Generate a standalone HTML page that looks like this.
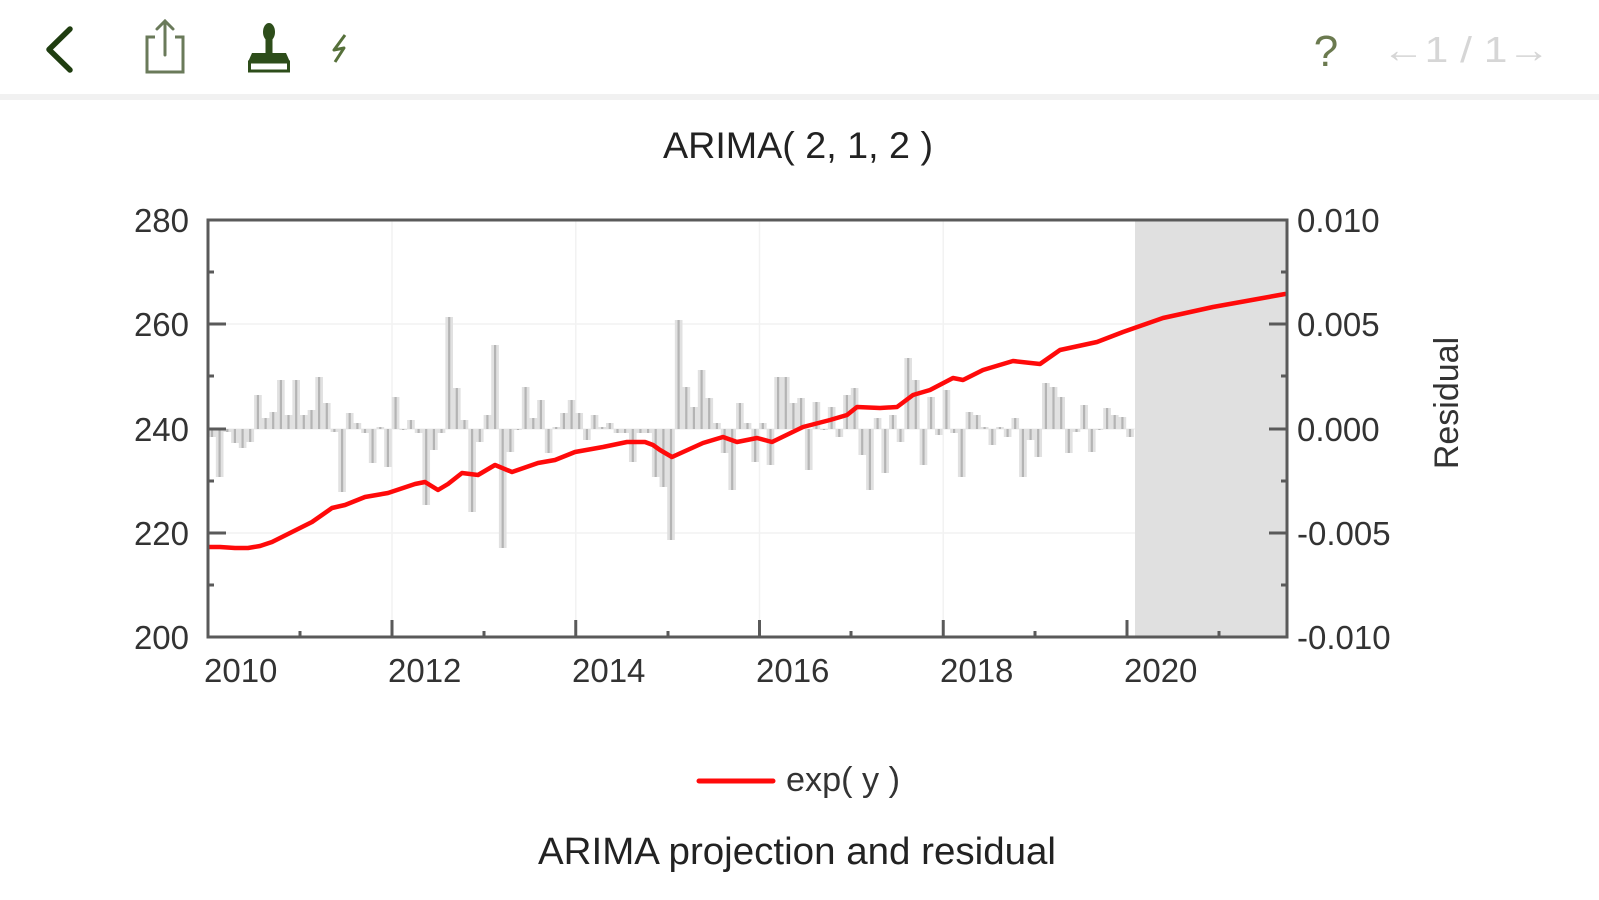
<!DOCTYPE html>
<html>
<head>
<meta charset="utf-8">
<style>
html,body{margin:0;padding:0;background:#fff;}
svg{display:block;font-family:"Liberation Sans",Arial,sans-serif;}
</style>
</head>
<body>
<svg width="1599" height="900" viewBox="0 0 1599 900" xmlns="http://www.w3.org/2000/svg">
<rect width="1599" height="900" fill="#ffffff"/>

<!-- toolbar -->
<rect x="0" y="94" width="1599" height="6" fill="#f1f1f1"/>
<polyline points="70,29 49,49.5 70,70" fill="none" stroke="#1f3d10" stroke-width="5.5" stroke-linecap="round" stroke-linejoin="round"/>
<path d="M155,37 H147 V72 H183 V37 H175" fill="none" stroke="#6a7a5a" stroke-width="3"/>
<path d="M165,21 V55 M157,29 L165,21 L173,29" fill="none" stroke="#6a7a5a" stroke-width="3" stroke-linecap="round"/>
<ellipse cx="269" cy="32" rx="6" ry="9" fill="#2d4d1a"/>
<rect x="265.5" y="38" width="7" height="15" fill="#2d4d1a"/>
<path d="M252,53 H286 L290,62 H248 Z" fill="#2d4d1a"/>
<rect x="249.5" y="62" width="39" height="9" fill="none" stroke="#2d4d1a" stroke-width="3"/>
<polyline points="345,35 334,50 344,48 335,62" fill="none" stroke="#56703a" stroke-width="3" stroke-linejoin="round"/>
<text x="1326" y="66" font-size="44" fill="#6b7a4f" text-anchor="middle">?</text>
<text x="1382" y="62" font-size="36" fill="#d6d6d6" textLength="168" lengthAdjust="spacingAndGlyphs">←1 / 1→</text>

<!-- title -->
<text x="663" y="158" font-size="37" fill="#222" textLength="270" lengthAdjust="spacingAndGlyphs">ARIMA( 2, 1, 2 )</text>

<!-- grid -->
<g stroke="#f2f2f2" stroke-width="1.5">
<line x1="208" y1="324" x2="1287" y2="324"/>
<line x1="208" y1="429" x2="1287" y2="429"/>
<line x1="208" y1="533" x2="1287" y2="533"/>
<line x1="392" y1="220" x2="392" y2="637"/>
<line x1="575.75" y1="220" x2="575.75" y2="637"/>
<line x1="759.5" y1="220" x2="759.5" y2="637"/>
<line x1="943.25" y1="220" x2="943.25" y2="637"/>
</g>

<!-- forecast shade -->
<rect x="1135" y="220" width="152" height="417" fill="#e0e0e0"/>

<!-- residual bars fill -->
<path fill="#e1e1e1" d="M208.2 429V437h7.65V477h7.65V432h7.65V443h7.65V448h7.65V442h7.65V395h7.65V418h7.65V412h7.65V380h7.65V415h7.65V380h7.65V415h7.65V410h7.65V377h7.65V403h7.65V432h7.65V492h7.65V413h7.65V423h7.65V433h7.65V463h7.65V427h7.65V467h7.65V397h7.65V430h7.65V420h7.65V433h7.65V505h7.65V450h7.65V433h7.65V317h7.65V388h7.65V420h7.65V512h7.65V442h7.65V415h7.65V345h7.65V548h7.65V452h7.65V430h7.65V387h7.65V418h7.65V400h7.65V453h7.65V427h7.65V413h7.65V400h7.65V413h7.65V440h7.65V415h7.65V427h7.65V423h7.65V433h7.65V433h7.65V462h7.65V433h7.65V433h7.65V477h7.65V487h7.65V540h7.65V320h7.65V387h7.65V407h7.65V370h7.65V398h7.65V423h7.65V453h7.65V490h7.65V403h7.65V423h7.65V462h7.65V423h7.65V465h7.65V377h7.65V377h7.65V403h7.65V398h7.65V470h7.65V402h7.65V430h7.65V407h7.65V437h7.65V395h7.65V388h7.65V455h7.65V490h7.65V418h7.65V473h7.65V415h7.65V442h7.65V358h7.65V380h7.65V465h7.65V397h7.65V435h7.65V390h7.65V433h7.65V477h7.65V412h7.65V415h7.65V427h7.65V445h7.65V427h7.65V437h7.65V418h7.65V477h7.65V440h7.65V457h7.65V383h7.65V387h7.65V397h7.65V453h7.65V432h7.65V405h7.65V452h7.65V430h7.65V408h7.65V415h7.65V417h7.65V437h7.65V429Z"/>
<!-- residual bars lines -->
<path fill="none" stroke="#b4b4b4" stroke-width="2.2" d="M212 429V437M219.6 429V477M227.3 429V432M234.9 429V443M242.6 429V448M250.2 429V442M257.9 429V395M265.6 429V418M273.2 429V412M280.9 429V380M288.5 429V415M296.2 429V380M303.8 429V415M311.5 429V410M319.1 429V377M326.8 429V403M334.4 429V432M342.1 429V492M349.7 429V413M357.4 429V423M365 429V433M372.6 429V463M380.3 429V427M387.9 429V467M395.6 429V397M403.2 429V430M410.9 429V420M418.6 429V433M426.2 429V505M433.9 429V450M441.5 429V433M449.2 429V317M456.8 429V388M464.5 429V420M472.1 429V512M479.8 429V442M487.4 429V415M495.1 429V345M502.7 429V548M510.4 429V452M518 429V430M525.6 429V387M533.3 429V418M540.9 429V400M548.6 429V453M556.2 429V427M563.9 429V413M571.6 429V400M579.2 429V413M586.9 429V440M594.5 429V415M602.2 429V427M609.8 429V423M617.5 429V433M625.1 429V433M632.8 429V462M640.4 429V433M648.1 429V433M655.7 429V477M663.4 429V487M671 429V540M678.6 429V320M686.3 429V387M693.9 429V407M701.6 429V370M709.2 429V398M716.9 429V423M724.6 429V453M732.2 429V490M739.9 429V403M747.5 429V423M755.2 429V462M762.8 429V423M770.5 429V465M778.1 429V377M785.8 429V377M793.4 429V403M801.1 429V398M808.7 429V470M816.4 429V402M824 429V430M831.6 429V407M839.3 429V437M846.9 429V395M854.6 429V388M862.2 429V455M869.9 429V490M877.6 429V418M885.2 429V473M892.9 429V415M900.5 429V442M908.2 429V358M915.8 429V380M923.5 429V465M931.1 429V397M938.8 429V435M946.4 429V390M954.1 429V433M961.7 429V477M969.4 429V412M977 429V415M984.6 429V427M992.3 429V445M999.9 429V427M1007.6 429V437M1015.2 429V418M1022.9 429V477M1030.6 429V440M1038.2 429V457M1045.9 429V383M1053.5 429V387M1061.2 429V397M1068.8 429V453M1076.5 429V432M1084.1 429V405M1091.8 429V452M1099.4 429V430M1107.1 429V408M1114.7 429V415M1122.4 429V417M1130 429V437"/>

<!-- red series -->
<polyline fill="none" stroke="#ff0a0a" stroke-width="4.5" stroke-linejoin="round" stroke-linecap="round" points="209,547 220,547 235,548 248,548 260,546 272,542 292,532 312,522 332,508 345,505 365,497 388,493 415,484 425,482 438,490 448,484 462,473 478,475 495,465 512,472 538,463 555,460 575,452 603,447 627,442 645,442 653,445 660,450 672,457 703,443 723,437 737,442 757,438 772,442 803,427 830,420 847,415 857,407 880,408 897,407 913,395 930,390 953,378 963,380 983,370 1013,361 1040,364 1060,350 1097,342 1123,332 1163,318 1213,307 1285,294"/>

<!-- frame -->
<rect x="208" y="220" width="1079" height="417" fill="none" stroke="#5a5a5a" stroke-width="3"/>

<!-- ticks -->
<g stroke="#5a5a5a" stroke-width="3">
<line x1="208" y1="324" x2="226" y2="324"/>
<line x1="208" y1="429" x2="226" y2="429"/>
<line x1="208" y1="533" x2="226" y2="533"/>
<line x1="208" y1="272" x2="214" y2="272"/>
<line x1="208" y1="376" x2="214" y2="376"/>
<line x1="208" y1="481" x2="214" y2="481"/>
<line x1="208" y1="585" x2="214" y2="585"/>
<line x1="1287" y1="324" x2="1269" y2="324"/>
<line x1="1287" y1="429" x2="1269" y2="429"/>
<line x1="1287" y1="533" x2="1269" y2="533"/>
<line x1="1287" y1="272" x2="1281" y2="272"/>
<line x1="1287" y1="376" x2="1281" y2="376"/>
<line x1="1287" y1="481" x2="1281" y2="481"/>
<line x1="1287" y1="585" x2="1281" y2="585"/>
<line x1="392" y1="637" x2="392" y2="620"/>
<line x1="575.75" y1="637" x2="575.75" y2="620"/>
<line x1="759.5" y1="637" x2="759.5" y2="620"/>
<line x1="943.25" y1="637" x2="943.25" y2="620"/>
<line x1="1127" y1="637" x2="1127" y2="620"/>
<line x1="300" y1="637" x2="300" y2="631"/>
<line x1="484" y1="637" x2="484" y2="631"/>
<line x1="668" y1="637" x2="668" y2="631"/>
<line x1="851" y1="637" x2="851" y2="631"/>
<line x1="1035" y1="637" x2="1035" y2="631"/>
<line x1="1219" y1="637" x2="1219" y2="631"/>
</g>

<!-- left y labels -->
<g font-size="33" fill="#333" text-anchor="end">
<text x="189" y="232">280</text>
<text x="189" y="336">260</text>
<text x="189" y="441">240</text>
<text x="189" y="545">220</text>
<text x="189" y="649">200</text>
</g>
<!-- right y labels -->
<g font-size="33" fill="#333">
<text x="1297" y="232">0.010</text>
<text x="1297" y="336">0.005</text>
<text x="1297" y="441">0.000</text>
<text x="1297" y="545">-0.005</text>
<text x="1297" y="649">-0.010</text>
</g>
<!-- x labels -->
<g font-size="33" fill="#333">
<text x="204" y="682">2010</text>
<text x="388" y="682">2012</text>
<text x="572" y="682">2014</text>
<text x="756" y="682">2016</text>
<text x="940" y="682">2018</text>
<text x="1124" y="682">2020</text>
</g>

<!-- right axis title -->
<text transform="translate(1458,403) rotate(-90)" font-size="34" fill="#333" text-anchor="middle">Residual</text>

<!-- legend -->
<line x1="699" y1="781" x2="773" y2="781" stroke="#ff0a0a" stroke-width="5" stroke-linecap="round"/>
<text x="786" y="791" font-size="34" fill="#333" textLength="114" lengthAdjust="spacingAndGlyphs">exp( y )</text>

<!-- caption -->
<text x="538" y="864" font-size="38" fill="#222" textLength="518" lengthAdjust="spacingAndGlyphs">ARIMA projection and residual</text>
</svg>
</body>
</html>
